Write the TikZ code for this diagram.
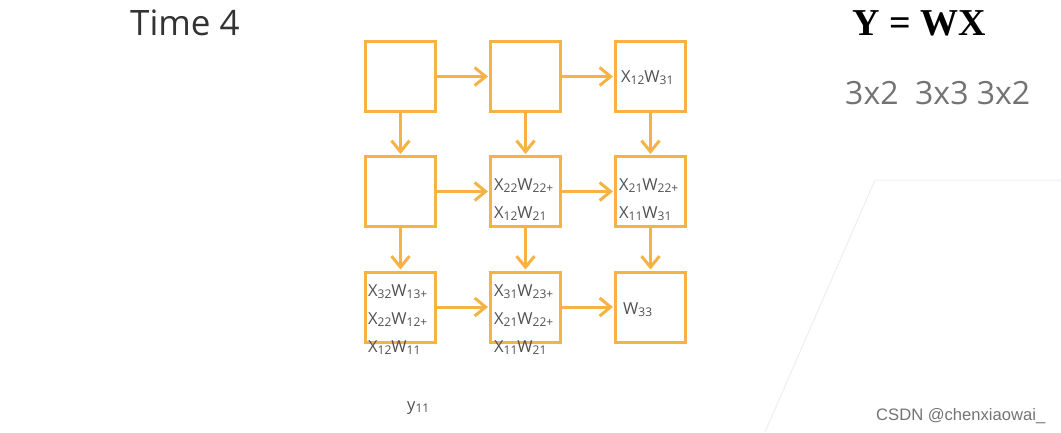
\documentclass[tikz,border=0pt]{standalone}
\usepackage{fontspec}
\setmainfont{Open Sans}
\newfontfamily\timesb{Liberation Serif}
\newfontfamily\arialf{Liberation Sans}
\usetikzlibrary{arrows.meta}
\definecolor{boxorange}{RGB}{247,178,70}
\definecolor{txtgray}{RGB}{80,80,80}
\definecolor{faint}{RGB}{238,238,238}
\newcommand\sbs[1]{\raisebox{-2pt}{\fontsize{12}{12}\selectfont #1}}
\newcommand\xwterm[3]{X\sbs{#1}W\sbs{#2#3}}
\tikzset{
  cell/.style={draw=boxorange, line width=3pt, minimum width=70pt, minimum height=70pt, inner sep=0pt},
  arr/.style={draw=boxorange, line width=3pt, -{Straight Barb[length=11pt,width=18pt]}, shorten >=1pt},
  cellt/.style={anchor=west, inner sep=0pt, text=txtgray, font=\fontsize{16.5}{16.5}\selectfont},
}
\begin{document}
\begin{tikzpicture}[x=1pt,y=-1pt]
\useasboundingbox (0,0) rectangle (1061,432);
% faint background shape
\draw[faint, line width=1pt] (765,432) -- (875,180) -- (1061,180);
% boxes
\node[cell] (b11) at (400.5,76.5) {};
\node[cell] (b12) at (525.5,76.5) {};
\node[cell] (b13) at (650.5,76.5) {};
\node[cell] (b21) at (400.5,191.5) {};
\node[cell] (b22) at (525.5,191.5) {};
\node[cell] (b23) at (650.5,191.5) {};
\node[cell] (b31) at (400.5,307) {};
\node[cell] (b32) at (525.5,307) {};
\node[cell] (b33) at (650.5,307) {};
% horizontal arrows
\draw[arr] (b11.east) -- (b12.west);
\draw[arr] (b12.east) -- (b13.west);
\draw[arr] (b21.east) -- (b22.west);
\draw[arr] (b22.east) -- (b23.west);
\draw[arr] (b31.east) -- (b32.west);
\draw[arr] (b32.east) -- (b33.west);
% vertical arrows
\draw[arr] (b11.south) -- (b21.north);
\draw[arr] (b12.south) -- (b22.north);
\draw[arr] (b13.south) -- (b23.north);
\draw[arr] (b21.south) -- (b31.north);
\draw[arr] (b22.south) -- (b32.north);
\draw[arr] (b23.south) -- (b33.north);
% cell texts
\node[cellt] (t13) at (621,78) {\xwterm{12}{31}{}};
\node[cellt] (t22a) at (494,186) {\xwterm{22}{22}{+}};
\node[cellt] (t22b) at (494,214) {\xwterm{12}{21}{}};
\node[cellt] (t23a) at (619,186) {\xwterm{21}{22}{+}};
\node[cellt] (t23b) at (619,214) {\xwterm{11}{31}{}};
\node[cellt] (t31a) at (368,292) {\xwterm{32}{13}{+}};
\node[cellt] (t31b) at (368,320) {\xwterm{22}{12}{+}};
\node[cellt] (t31c) at (368,348) {\xwterm{12}{11}{}};
\node[cellt] (t32a) at (494,292) {\xwterm{31}{23}{+}};
\node[cellt] (t32b) at (494,320) {\xwterm{21}{22}{+}};
\node[cellt] (t32c) at (494,348) {\xwterm{11}{21}{}};
\node[cellt] (t33) at (623,310) {W\sbs{33}};
\node[cellt] (y11) at (407,408) {y\sbs{11}};
% titles
\node[anchor=base west, inner sep=0pt, text=black!80, font=\fontsize{35}{35}\selectfont] (time) at (130,35) {Time 4};
\node[anchor=base west, inner sep=0pt, text=black, font=\timesb\bfseries\fontsize{38}{38}\selectfont] (eq) at (852,35) {Y = WX};
\node[anchor=base west, inner sep=0pt, text=black!55, font=\fontsize{32}{32}\selectfont] (dims) at (845,104) {3x2\ \ 3x3 3x2};
\node[anchor=base west, inner sep=0pt, text=black!55, font=\arialf\fontsize{16.6}{16.6}\selectfont] (wm) at (876,420) {CSDN @chenxiaowai\_};
\end{tikzpicture}
\end{document}
